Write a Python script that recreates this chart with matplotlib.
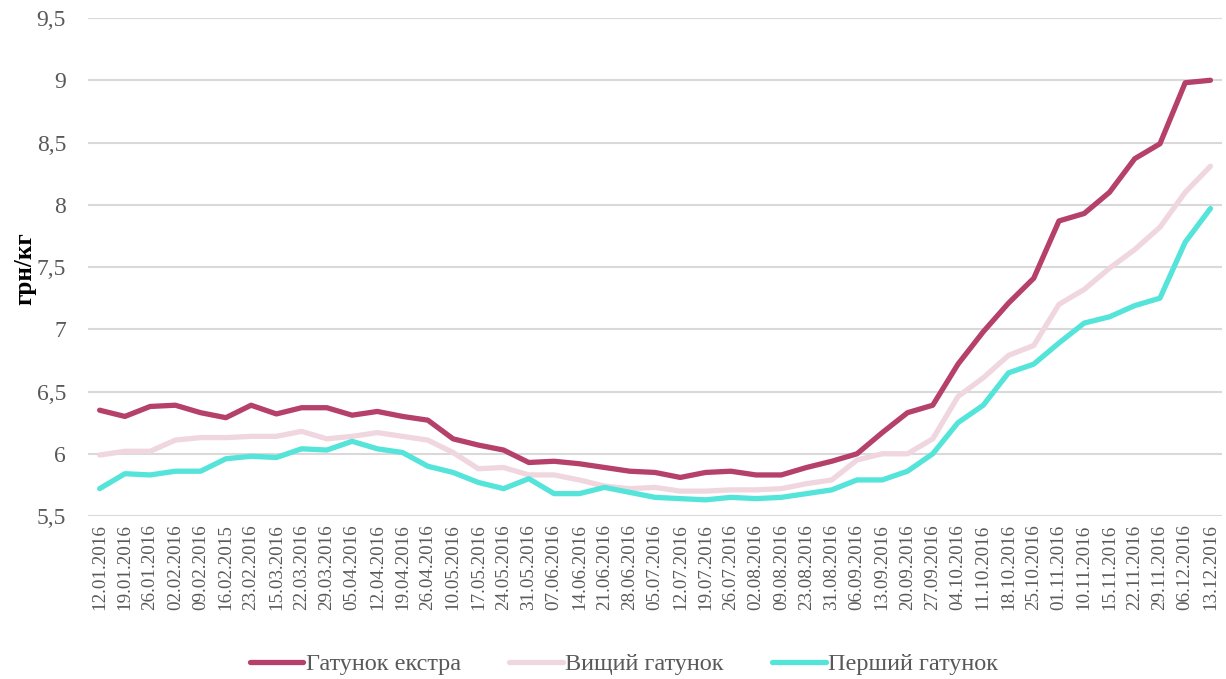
import matplotlib
matplotlib.use("Agg")
import matplotlib.pyplot as plt

dates = ["12.01.2016", "19.01.2016", "26.01.2016", "02.02.2016", "09.02.2016", "16.02.2015",
         "23.02.2016", "15.03.2016", "22.03.2016", "29.03.2016", "05.04.2016", "12.04.2016",
         "19.04.2016", "26.04.2016", "10.05.2016", "17.05.2016", "24.05.2016", "31.05.2016",
         "07.06.2016", "14.06.2016", "21.06.2016", "28.06.2016", "05.07.2016", "12.07.2016",
         "19.07.2016", "26.07.2016", "02.08.2016", "09.08.2016", "23.08.2016", "31.08.2016",
         "06.09.2016", "13.09.2016", "20.09.2016", "27.09.2016", "04.10.2016", "11.10.2016",
         "18.10.2016", "25.10.2016", "01.11.2016", "10.11.2016", "15.11.2016", "22.11.2016",
         "29.11.2016", "06.12.2016", "13.12.2016"]

extra = [6.35, 6.30, 6.38, 6.39, 6.33, 6.29, 6.39, 6.32, 6.37, 6.37, 6.31, 6.34, 6.30, 6.27,
         6.12, 6.07, 6.03, 5.93, 5.94, 5.92, 5.89, 5.86, 5.85, 5.81, 5.85, 5.86, 5.83, 5.83,
         5.89, 5.94, 6.00, 6.17, 6.33, 6.39, 6.72, 6.98, 7.21, 7.41, 7.87, 7.93, 8.10, 8.37,
         8.49, 8.98, 9.00]

vyshchyi = [5.99, 6.02, 6.02, 6.11, 6.13, 6.13, 6.14, 6.14, 6.18, 6.12, 6.14, 6.17, 6.14, 6.11,
            6.01, 5.88, 5.89, 5.83, 5.83, 5.79, 5.74, 5.72, 5.73, 5.70, 5.70, 5.71, 5.71, 5.72,
            5.76, 5.79, 5.95, 6.00, 6.00, 6.12, 6.46, 6.61, 6.79, 6.87, 7.20, 7.32, 7.49, 7.64,
            7.82, 8.10, 8.31]

pershyi = [5.72, 5.84, 5.83, 5.86, 5.86, 5.96, 5.98, 5.97, 6.04, 6.03, 6.10, 6.04, 6.01, 5.90,
           5.85, 5.77, 5.72, 5.80, 5.68, 5.68, 5.73, 5.69, 5.65, 5.64, 5.63, 5.65, 5.64, 5.65,
           5.68, 5.71, 5.79, 5.79, 5.86, 6.00, 6.25, 6.39, 6.65, 6.72, 6.89, 7.05, 7.10, 7.19,
           7.25, 7.70, 7.97]

series_names = ["Гатунок екстра", "Вищий гатунок", "Перший гатунок"]
colors = ["#B5406A", "#F0D6DF", "#55E4DA"]
yticks = [5.5, 6, 6.5, 7, 7.5, 8, 8.5, 9, 9.5]
ytick_labels = ["5,5", "6", "6,5", "7", "7,5", "8", "8,5", "9", "9,5"]

plt.rcParams['font.family'] = ['Liberation Serif', 'DejaVu Serif']

fig = plt.figure(figsize=(12.26, 6.79), dpi=100)
ax = fig.add_axes([0.072, 0.24, 0.925, 0.7335])

x = list(range(len(dates)))
for vals, name, c in zip([extra, vyshchyi, pershyi], series_names, colors):
    ax.plot(x, vals, color=c, lw=3.8, label=name, solid_capstyle='round', solid_joinstyle='round')

ax.set_ylim(5.5, 9.5)
ax.set_xlim(-0.45, len(dates) - 1 + 0.47)
ax.set_yticks(yticks)
ax.set_yticklabels(ytick_labels)
ax.set_xticks(x)
ax.set_xticklabels(dates, rotation=90)
ax.tick_params(axis='y', length=0, pad=16, labelsize=17, labelcolor='#595959')
ax.tick_params(axis='x', length=0, pad=6, labelsize=13.8, labelcolor='#595959')
ax.grid(axis='y', color='#D9D9D9', lw=1.5)
ax.set_axisbelow(True)
for s in ax.spines.values():
    s.set_visible(False)

fig.text(0.02, 0.604, "грн/кг", rotation=90, fontsize=18, fontweight='bold',
         ha='center', va='center', color='black')

leg = fig.legend(loc='center', bbox_to_anchor=(0.509, 0.022), ncol=3, frameon=False,
                 fontsize=17.5, handlelength=2.2, handletextpad=0.1, columnspacing=2.0)
for t in leg.get_texts():
    t.set_color('#595959')

fig.savefig("out.png", dpi=100)
